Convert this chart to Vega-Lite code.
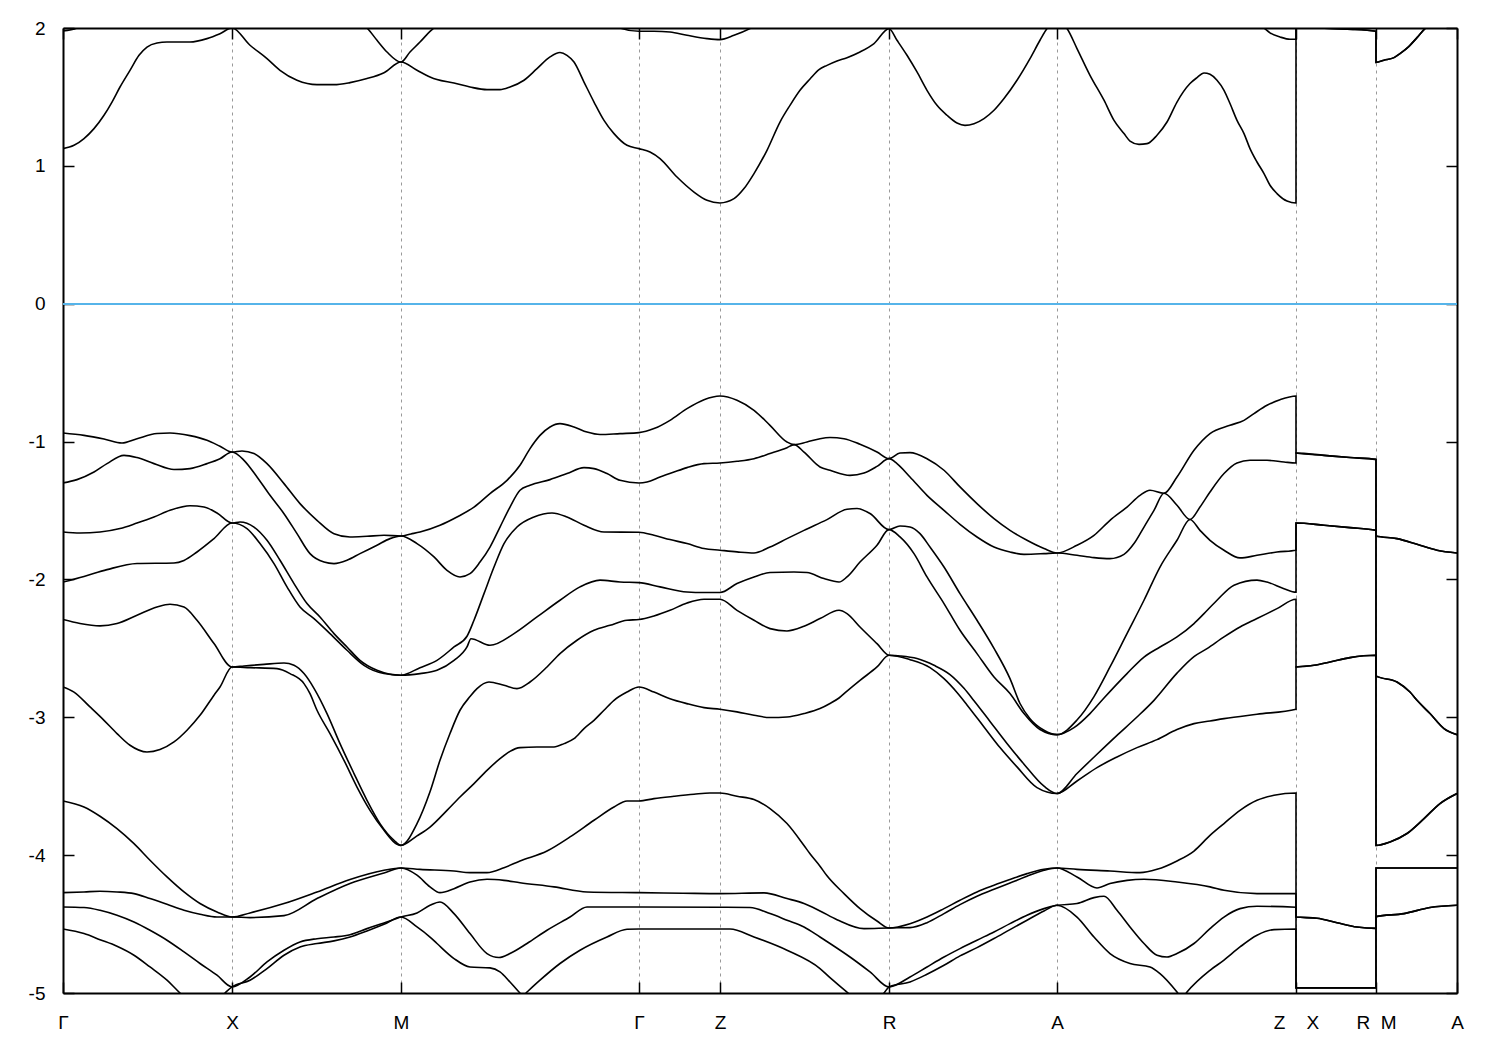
{
"$schema": "https://vega.github.io/schema/vega-lite/v6.json",
"autosize": "none",
"width": 1394,
"height": 965,
"padding": {"left": 63, "top": 28, "right": 43, "bottom": 57},
"background": "white",
"config": {"view": {"stroke": null}, "font": "Liberation Sans"},
"data": {"values": [
{"b":12,"k":0,"e":1.125},{"b":12,"k":11,"e":1.149},{"b":12,"k":21,"e":1.198},{"b":12,"k":31,"e":1.27},{"b":12,"k":41,"e":1.367},{"b":12,"k":49,"e":1.463},{"b":12,"k":57,"e":1.572},{"b":12,"k":67,"e":1.693},{"b":12,"k":76,"e":1.802},{"b":12,"k":84,"e":1.862},{"b":12,"k":94,"e":1.891},{"b":12,"k":104,"e":1.898},{"b":12,"k":127,"e":1.898},{"b":12,"k":144,"e":1.923},{"b":12,"k":157,"e":1.959},{"b":12,"k":169,"e":2.0},
{"b":12,"k":187,"e":1.875},{"b":12,"k":204,"e":1.778},{"b":12,"k":217,"e":1.693},{"b":12,"k":234,"e":1.621},{"b":12,"k":254,"e":1.589},{"b":12,"k":271,"e":1.589},{"b":12,"k":287,"e":1.604},{"b":12,"k":304,"e":1.633},{"b":12,"k":321,"e":1.676},{"b":12,"k":338,"e":1.753},
{"b":12,"k":354,"e":1.693},{"b":12,"k":367,"e":1.645},{"b":12,"k":374,"e":1.626},{"b":12,"k":391,"e":1.601},{"b":12,"k":407,"e":1.572},{"b":12,"k":424,"e":1.553},{"b":12,"k":437,"e":1.553},{"b":12,"k":447,"e":1.572},{"b":12,"k":461,"e":1.621},{"b":12,"k":474,"e":1.705},{"b":12,"k":487,"e":1.79},{"b":12,"k":497,"e":1.822},{"b":12,"k":504,"e":1.802},{"b":12,"k":511,"e":1.753},{"b":12,"k":521,"e":1.608},{"b":12,"k":531,"e":1.463},{"b":12,"k":541,"e":1.33},{"b":12,"k":551,"e":1.234},{"b":12,"k":564,"e":1.149},{"b":12,"k":576,"e":1.125},
{"b":12,"k":587,"e":1.101},{"b":12,"k":597,"e":1.053},{"b":12,"k":614,"e":0.919},{"b":12,"k":631,"e":0.81},{"b":12,"k":644,"e":0.75},{"b":12,"k":657,"e":0.731},
{"b":12,"k":671,"e":0.762},{"b":12,"k":681,"e":0.835},{"b":12,"k":691,"e":0.944},{"b":12,"k":704,"e":1.113},{"b":12,"k":717,"e":1.318},{"b":12,"k":727,"e":1.439},{"b":12,"k":737,"e":1.548},{"b":12,"k":747,"e":1.63},{"b":12,"k":756,"e":1.698},{"b":12,"k":764,"e":1.729},{"b":12,"k":774,"e":1.761},{"b":12,"k":784,"e":1.785},{"b":12,"k":797,"e":1.826},{"b":12,"k":811,"e":1.887},{"b":12,"k":826,"e":1.995},
{"b":12,"k":834,"e":1.911},{"b":12,"k":844,"e":1.802},{"b":12,"k":854,"e":1.681},{"b":12,"k":864,"e":1.548},{"b":12,"k":874,"e":1.439},{"b":12,"k":884,"e":1.367},{"b":12,"k":894,"e":1.311},{"b":12,"k":902,"e":1.294},{"b":12,"k":911,"e":1.306},{"b":12,"k":921,"e":1.343},{"b":12,"k":931,"e":1.403},{"b":12,"k":941,"e":1.488},{"b":12,"k":954,"e":1.621},{"b":12,"k":967,"e":1.778},{"b":12,"k":977,"e":1.911},{"b":12,"k":984,"e":1.996},{"b":12,"k":994,"e":2.06},
{"b":12,"k":1004,"e":1.996},{"b":12,"k":1014,"e":1.851},{"b":12,"k":1027,"e":1.657},{"b":12,"k":1041,"e":1.476},{"b":12,"k":1051,"e":1.33},{"b":12,"k":1061,"e":1.234},{"b":12,"k":1067,"e":1.18},{"b":12,"k":1076,"e":1.156},{"b":12,"k":1084,"e":1.161},{"b":12,"k":1094,"e":1.222},{"b":12,"k":1104,"e":1.318},{"b":12,"k":1114,"e":1.463},{"b":12,"k":1127,"e":1.597},{"b":12,"k":1134,"e":1.64},{"b":12,"k":1141,"e":1.674},{"b":12,"k":1147,"e":1.664},{"b":12,"k":1154,"e":1.621},{"b":12,"k":1161,"e":1.548},{"b":12,"k":1167,"e":1.452},{"b":12,"k":1174,"e":1.33},{"b":12,"k":1181,"e":1.234},{"b":12,"k":1187,"e":1.125},{"b":12,"k":1194,"e":1.028},{"b":12,"k":1201,"e":0.944},{"b":12,"k":1207,"e":0.859},{"b":12,"k":1214,"e":0.799},{"b":12,"k":1224,"e":0.745},{"b":12,"k":1233,"e":0.731},
{"b":12,"k":1233,"e":2.0},{"b":12,"k":1290,"e":1.99},{"b":12,"k":1313,"e":1.976},
{"b":12,"k":1313,"e":1.751},{"b":12,"k":1321,"e":1.766},{"b":12,"k":1331,"e":1.785},{"b":12,"k":1337,"e":1.814},{"b":12,"k":1346,"e":1.867},{"b":12,"k":1354,"e":1.93},{"b":12,"k":1362,"e":1.996},{"b":12,"k":1394,"e":2.1},

{"b":11,"k":0,"e":1.978},{"b":11,"k":14,"e":2.0},{"b":11,"k":30,"e":2.08},{"b":11,"k":70,"e":2.2},{"b":11,"k":130,"e":2.15},{"b":11,"k":169,"e":2.05},{"b":11,"k":230,"e":2.25},{"b":11,"k":290,"e":2.06},{"b":11,"k":304,"e":2.0},{"b":11,"k":314,"e":1.911},{"b":11,"k":324,"e":1.826},{"b":11,"k":338,"e":1.753},{"b":11,"k":347,"e":1.826},{"b":11,"k":357,"e":1.898},{"b":11,"k":367,"e":1.975},{"b":11,"k":380,"e":2.05},{"b":11,"k":450,"e":2.2},{"b":11,"k":540,"e":2.1},{"b":11,"k":557,"e":2.0},{"b":11,"k":576,"e":1.976},{"b":11,"k":591,"e":1.976},{"b":11,"k":607,"e":1.971},{"b":11,"k":624,"e":1.947},{"b":11,"k":644,"e":1.923},{"b":11,"k":657,"e":1.916},{"b":11,"k":671,"e":1.947},{"b":11,"k":687,"e":1.996},{"b":11,"k":700,"e":2.05},{"b":11,"k":760,"e":2.2},{"b":11,"k":826,"e":2.05},{"b":11,"k":900,"e":2.25},{"b":11,"k":994,"e":2.15},{"b":11,"k":1100,"e":2.3},{"b":11,"k":1190,"e":2.05},{"b":11,"k":1201,"e":2.0},{"b":11,"k":1207,"e":1.965},{"b":11,"k":1217,"e":1.935},{"b":11,"k":1227,"e":1.918},{"b":11,"k":1233,"e":1.918},{"b":11,"k":1233,"e":2.0},{"b":11,"k":1290,"e":1.99},{"b":11,"k":1313,"e":1.976},{"b":11,"k":1313,"e":1.751},{"b":11,"k":1321,"e":1.766},{"b":11,"k":1331,"e":1.785},{"b":11,"k":1337,"e":1.814},{"b":11,"k":1346,"e":1.867},{"b":11,"k":1354,"e":1.93},{"b":11,"k":1362,"e":1.996},{"b":11,"k":1394,"e":2.1},

{"b":1,"k":0,"e":-0.938},{"b":1,"k":21,"e":-0.955},{"b":1,"k":41,"e":-0.981},{"b":1,"k":59,"e":-1.01},{"b":1,"k":74,"e":-0.979},{"b":1,"k":94,"e":-0.942},{"b":1,"k":107,"e":-0.938},{"b":1,"k":127,"e":-0.957},{"b":1,"k":144,"e":-0.991},{"b":1,"k":157,"e":-1.034},{"b":1,"k":169,"e":-1.076},
{"b":1,"k":179,"e":-1.068},{"b":1,"k":191,"e":-1.087},{"b":1,"k":204,"e":-1.16},{"b":1,"k":221,"e":-1.305},{"b":1,"k":237,"e":-1.45},{"b":1,"k":254,"e":-1.571},{"b":1,"k":271,"e":-1.668},{"b":1,"k":287,"e":-1.692},{"b":1,"k":304,"e":-1.687},{"b":1,"k":321,"e":-1.68},{"b":1,"k":338,"e":-1.685},
{"b":1,"k":348,"e":-1.67},{"b":1,"k":357,"e":-1.656},{"b":1,"k":377,"e":-1.607},{"b":1,"k":394,"e":-1.547},{"b":1,"k":411,"e":-1.475},{"b":1,"k":427,"e":-1.377},{"b":1,"k":444,"e":-1.281},{"b":1,"k":457,"e":-1.172},{"b":1,"k":467,"e":-1.051},{"b":1,"k":477,"e":-0.955},{"b":1,"k":487,"e":-0.894},{"b":1,"k":497,"e":-0.87},{"b":1,"k":511,"e":-0.894},{"b":1,"k":524,"e":-0.931},{"b":1,"k":537,"e":-0.949},{"b":1,"k":557,"e":-0.942},{"b":1,"k":576,"e":-0.935},
{"b":1,"k":591,"e":-0.906},{"b":1,"k":607,"e":-0.846},{"b":1,"k":624,"e":-0.761},{"b":1,"k":641,"e":-0.696},{"b":1,"k":657,"e":-0.669},
{"b":1,"k":674,"e":-0.7},{"b":1,"k":691,"e":-0.773},{"b":1,"k":707,"e":-0.882},{"b":1,"k":724,"e":-1.003},{"b":1,"k":731,"e":-1.022},{"b":1,"k":744,"e":-1.003},{"b":1,"k":757,"e":-0.979},{"b":1,"k":767,"e":-0.971},{"b":1,"k":781,"e":-0.979},{"b":1,"k":797,"e":-1.02},{"b":1,"k":814,"e":-1.076},{"b":1,"k":826,"e":-1.124},
{"b":1,"k":837,"e":-1.083},{"b":1,"k":847,"e":-1.08},{"b":1,"k":864,"e":-1.124},{"b":1,"k":881,"e":-1.208},{"b":1,"k":897,"e":-1.329},{"b":1,"k":914,"e":-1.45},{"b":1,"k":931,"e":-1.559},{"b":1,"k":947,"e":-1.644},{"b":1,"k":964,"e":-1.716},{"b":1,"k":981,"e":-1.776},{"b":1,"k":994,"e":-1.808},
{"b":1,"k":1014,"e":-1.752},{"b":1,"k":1031,"e":-1.68},{"b":1,"k":1047,"e":-1.571},{"b":1,"k":1064,"e":-1.475},{"b":1,"k":1077,"e":-1.39},{"b":1,"k":1087,"e":-1.353},{"b":1,"k":1101,"e":-1.375},{"b":1,"k":1114,"e":-1.257},{"b":1,"k":1131,"e":-1.063},{"b":1,"k":1147,"e":-0.942},{"b":1,"k":1167,"e":-0.882},{"b":1,"k":1181,"e":-0.846},{"b":1,"k":1191,"e":-0.797},{"b":1,"k":1204,"e":-0.737},{"b":1,"k":1217,"e":-0.696},{"b":1,"k":1233,"e":-0.669},
{"b":1,"k":1233,"e":-1.083},{"b":1,"k":1261,"e":-1.1},{"b":1,"k":1287,"e":-1.116},{"b":1,"k":1313,"e":-1.129},
{"b":1,"k":1313,"e":-1.685},{"b":1,"k":1334,"e":-1.704},{"b":1,"k":1354,"e":-1.745},{"b":1,"k":1374,"e":-1.788},{"b":1,"k":1394,"e":-1.808},

{"b":2,"k":0,"e":-1.3},{"b":2,"k":14,"e":-1.276},{"b":2,"k":31,"e":-1.221},{"b":2,"k":44,"e":-1.16},{"b":2,"k":61,"e":-1.1},{"b":2,"k":74,"e":-1.116},{"b":2,"k":91,"e":-1.16},{"b":2,"k":111,"e":-1.203},{"b":2,"k":127,"e":-1.196},{"b":2,"k":144,"e":-1.16},{"b":2,"k":157,"e":-1.124},{"b":2,"k":169,"e":-1.076},
{"b":2,"k":181,"e":-1.136},{"b":2,"k":194,"e":-1.257},{"b":2,"k":207,"e":-1.39},{"b":2,"k":221,"e":-1.523},{"b":2,"k":234,"e":-1.668},{"b":2,"k":247,"e":-1.813},{"b":2,"k":261,"e":-1.874},{"b":2,"k":271,"e":-1.885},{"b":2,"k":284,"e":-1.861},{"b":2,"k":297,"e":-1.813},{"b":2,"k":314,"e":-1.752},{"b":2,"k":327,"e":-1.704},{"b":2,"k":338,"e":-1.685},
{"b":2,"k":354,"e":-1.74},{"b":2,"k":371,"e":-1.837},{"b":2,"k":384,"e":-1.934},{"b":2,"k":397,"e":-1.982},{"b":2,"k":407,"e":-1.958},{"b":2,"k":417,"e":-1.874},{"b":2,"k":427,"e":-1.765},{"b":2,"k":437,"e":-1.62},{"b":2,"k":447,"e":-1.475},{"b":2,"k":457,"e":-1.353},{"b":2,"k":467,"e":-1.317},{"b":2,"k":487,"e":-1.276},{"b":2,"k":504,"e":-1.232},{"b":2,"k":521,"e":-1.189},{"b":2,"k":531,"e":-1.196},{"b":2,"k":544,"e":-1.232},{"b":2,"k":557,"e":-1.281},{"b":2,"k":576,"e":-1.3},
{"b":2,"k":584,"e":-1.293},{"b":2,"k":597,"e":-1.257},{"b":2,"k":611,"e":-1.221},{"b":2,"k":624,"e":-1.189},{"b":2,"k":641,"e":-1.16},{"b":2,"k":657,"e":-1.155},
{"b":2,"k":674,"e":-1.143},{"b":2,"k":691,"e":-1.124},{"b":2,"k":707,"e":-1.087},{"b":2,"k":724,"e":-1.044},{"b":2,"k":731,"e":-1.022},{"b":2,"k":741,"e":-1.076},{"b":2,"k":757,"e":-1.184},{"b":2,"k":767,"e":-1.208},{"b":2,"k":787,"e":-1.245},{"b":2,"k":801,"e":-1.228},{"b":2,"k":814,"e":-1.18},{"b":2,"k":826,"e":-1.124},
{"b":2,"k":834,"e":-1.16},{"b":2,"k":847,"e":-1.257},{"b":2,"k":864,"e":-1.39},{"b":2,"k":881,"e":-1.499},{"b":2,"k":897,"e":-1.6},{"b":2,"k":914,"e":-1.692},{"b":2,"k":931,"e":-1.765},{"b":2,"k":947,"e":-1.801},{"b":2,"k":961,"e":-1.818},{"b":2,"k":981,"e":-1.813},{"b":2,"k":994,"e":-1.808},
{"b":2,"k":1014,"e":-1.825},{"b":2,"k":1031,"e":-1.842},{"b":2,"k":1047,"e":-1.849},{"b":2,"k":1061,"e":-1.818},{"b":2,"k":1071,"e":-1.74},{"b":2,"k":1081,"e":-1.62},{"b":2,"k":1091,"e":-1.499},{"b":2,"k":1101,"e":-1.375},{"b":2,"k":1114,"e":-1.462},{"b":2,"k":1127,"e":-1.565},{"b":2,"k":1137,"e":-1.475},{"b":2,"k":1147,"e":-1.366},{"b":2,"k":1161,"e":-1.232},{"b":2,"k":1174,"e":-1.155},{"b":2,"k":1187,"e":-1.136},{"b":2,"k":1204,"e":-1.136},{"b":2,"k":1221,"e":-1.148},{"b":2,"k":1233,"e":-1.155},
{"b":2,"k":1233,"e":-1.083},{"b":2,"k":1261,"e":-1.1},{"b":2,"k":1287,"e":-1.116},{"b":2,"k":1313,"e":-1.129},
{"b":2,"k":1313,"e":-1.685},{"b":2,"k":1334,"e":-1.704},{"b":2,"k":1354,"e":-1.745},{"b":2,"k":1374,"e":-1.788},{"b":2,"k":1394,"e":-1.808},

{"b":3,"k":0,"e":-1.656},{"b":3,"k":17,"e":-1.663},{"b":3,"k":37,"e":-1.656},{"b":3,"k":57,"e":-1.631},{"b":3,"k":74,"e":-1.591},{"b":3,"k":91,"e":-1.547},{"b":3,"k":107,"e":-1.499},{"b":3,"k":127,"e":-1.465},{"b":3,"k":141,"e":-1.474},{"b":3,"k":154,"e":-1.518},{"b":3,"k":169,"e":-1.591},
{"b":3,"k":177,"e":-1.583},{"b":3,"k":191,"e":-1.62},{"b":3,"k":204,"e":-1.716},{"b":3,"k":217,"e":-1.861},{"b":3,"k":231,"e":-2.03},{"b":3,"k":244,"e":-2.175},{"b":3,"k":257,"e":-2.272},{"b":3,"k":271,"e":-2.393},{"b":3,"k":284,"e":-2.49},{"b":3,"k":297,"e":-2.587},{"b":3,"k":314,"e":-2.659},{"b":3,"k":338,"e":-2.695},
{"b":3,"k":357,"e":-2.64},{"b":3,"k":374,"e":-2.587},{"b":3,"k":391,"e":-2.49},{"b":3,"k":404,"e":-2.412},{"b":3,"k":411,"e":-2.296},{"b":3,"k":421,"e":-2.103},{"b":3,"k":431,"e":-1.91},{"b":3,"k":441,"e":-1.74},{"b":3,"k":454,"e":-1.62},{"b":3,"k":471,"e":-1.547},{"b":3,"k":489,"e":-1.518},{"b":3,"k":504,"e":-1.547},{"b":3,"k":521,"e":-1.607},{"b":3,"k":541,"e":-1.656},{"b":3,"k":576,"e":-1.658},
{"b":3,"k":591,"e":-1.68},{"b":3,"k":607,"e":-1.711},{"b":3,"k":624,"e":-1.74},{"b":3,"k":641,"e":-1.776},{"b":3,"k":657,"e":-1.788},
{"b":3,"k":674,"e":-1.8},{"b":3,"k":691,"e":-1.808},{"b":3,"k":707,"e":-1.765},{"b":3,"k":724,"e":-1.704},{"b":3,"k":741,"e":-1.644},{"b":3,"k":764,"e":-1.566},{"b":3,"k":784,"e":-1.491},{"b":3,"k":794,"e":-1.486},{"b":3,"k":807,"e":-1.522},{"b":3,"k":826,"e":-1.639},
{"b":3,"k":837,"e":-1.612},{"b":3,"k":847,"e":-1.62},{"b":3,"k":857,"e":-1.668},{"b":3,"k":867,"e":-1.765},{"b":3,"k":881,"e":-1.91},{"b":3,"k":897,"e":-2.103},{"b":3,"k":914,"e":-2.296},{"b":3,"k":931,"e":-2.5},{"b":3,"k":947,"e":-2.72},{"b":3,"k":957,"e":-2.9},{"b":3,"k":967,"e":-3.01},{"b":3,"k":981,"e":-3.094},{"b":3,"k":994,"e":-3.126},
{"b":3,"k":1014,"e":-3.02},{"b":3,"k":1031,"e":-2.85},{"b":3,"k":1047,"e":-2.635},{"b":3,"k":1064,"e":-2.393},{"b":3,"k":1081,"e":-2.151},{"b":3,"k":1097,"e":-1.91},{"b":3,"k":1114,"e":-1.716},{"b":3,"k":1127,"e":-1.565},{"b":3,"k":1137,"e":-1.644},{"b":3,"k":1147,"e":-1.716},{"b":3,"k":1161,"e":-1.788},{"b":3,"k":1177,"e":-1.844},{"b":3,"k":1194,"e":-1.825},{"b":3,"k":1214,"e":-1.801},{"b":3,"k":1233,"e":-1.788},
{"b":3,"k":1233,"e":-1.591},{"b":3,"k":1261,"e":-1.607},{"b":3,"k":1287,"e":-1.624},{"b":3,"k":1313,"e":-1.644},
{"b":3,"k":1313,"e":-2.7},{"b":3,"k":1334,"e":-2.744},{"b":3,"k":1347,"e":-2.817},{"b":3,"k":1354,"e":-2.877},{"b":3,"k":1367,"e":-2.973},{"b":3,"k":1381,"e":-3.082},{"b":3,"k":1394,"e":-3.126},

{"b":4,"k":0,"e":-2.019},{"b":4,"k":21,"e":-1.978},{"b":4,"k":44,"e":-1.929},{"b":4,"k":74,"e":-1.885},{"b":4,"k":111,"e":-1.881},{"b":4,"k":121,"e":-1.862},{"b":4,"k":134,"e":-1.801},{"b":4,"k":151,"e":-1.704},{"b":4,"k":169,"e":-1.591},
{"b":4,"k":184,"e":-1.631},{"b":4,"k":197,"e":-1.74},{"b":4,"k":211,"e":-1.885},{"b":4,"k":224,"e":-2.054},{"b":4,"k":237,"e":-2.2},{"b":4,"k":251,"e":-2.284},{"b":4,"k":267,"e":-2.393},{"b":4,"k":284,"e":-2.514},{"b":4,"k":301,"e":-2.623},{"b":4,"k":321,"e":-2.683},{"b":4,"k":338,"e":-2.695},
{"b":4,"k":357,"e":-2.683},{"b":4,"k":374,"e":-2.659},{"b":4,"k":391,"e":-2.587},{"b":4,"k":404,"e":-2.49},{"b":4,"k":408,"e":-2.43},{"b":4,"k":427,"e":-2.478},{"b":4,"k":451,"e":-2.393},{"b":4,"k":474,"e":-2.272},{"b":4,"k":497,"e":-2.151},{"b":4,"k":517,"e":-2.054},{"b":4,"k":537,"e":-2.005},{"b":4,"k":557,"e":-2.019},{"b":4,"k":576,"e":-2.023},
{"b":4,"k":597,"e":-2.054},{"b":4,"k":624,"e":-2.091},{"b":4,"k":641,"e":-2.095},{"b":4,"k":657,"e":-2.095},
{"b":4,"k":674,"e":-2.03},{"b":4,"k":691,"e":-1.982},{"b":4,"k":707,"e":-1.95},{"b":4,"k":731,"e":-1.946},{"b":4,"k":744,"e":-1.95},{"b":4,"k":761,"e":-1.994},{"b":4,"k":776,"e":-2.019},{"b":4,"k":784,"e":-1.982},{"b":4,"k":797,"e":-1.874},{"b":4,"k":814,"e":-1.752},{"b":4,"k":826,"e":-1.639},
{"b":4,"k":837,"e":-1.692},{"b":4,"k":851,"e":-1.813},{"b":4,"k":864,"e":-1.982},{"b":4,"k":881,"e":-2.175},{"b":4,"k":897,"e":-2.369},{"b":4,"k":914,"e":-2.538},{"b":4,"k":931,"e":-2.708},{"b":4,"k":947,"e":-2.828},{"b":4,"k":961,"e":-2.973},{"b":4,"k":977,"e":-3.089},{"b":4,"k":994,"e":-3.126},
{"b":4,"k":1011,"e":-3.075},{"b":4,"k":1027,"e":-2.973},{"b":4,"k":1041,"e":-2.86},{"b":4,"k":1064,"e":-2.683},{"b":4,"k":1081,"e":-2.563},{"b":4,"k":1097,"e":-2.49},{"b":4,"k":1114,"e":-2.417},{"b":4,"k":1131,"e":-2.32},{"b":4,"k":1141,"e":-2.248},{"b":4,"k":1154,"e":-2.151},{"b":4,"k":1171,"e":-2.042},{"b":4,"k":1194,"e":-2.005},{"b":4,"k":1204,"e":-2.019},{"b":4,"k":1221,"e":-2.067},{"b":4,"k":1233,"e":-2.093},
{"b":4,"k":1233,"e":-1.591},{"b":4,"k":1261,"e":-1.607},{"b":4,"k":1287,"e":-1.624},{"b":4,"k":1313,"e":-1.644},
{"b":4,"k":1313,"e":-2.7},{"b":4,"k":1334,"e":-2.744},{"b":4,"k":1347,"e":-2.817},{"b":4,"k":1354,"e":-2.877},{"b":4,"k":1367,"e":-2.973},{"b":4,"k":1381,"e":-3.082},{"b":4,"k":1394,"e":-3.126},

{"b":5,"k":0,"e":-2.291},{"b":5,"k":17,"e":-2.32},{"b":5,"k":37,"e":-2.337},{"b":5,"k":54,"e":-2.32},{"b":5,"k":74,"e":-2.26},{"b":5,"k":94,"e":-2.2},{"b":5,"k":107,"e":-2.18},{"b":5,"k":121,"e":-2.2},{"b":5,"k":134,"e":-2.296},{"b":5,"k":151,"e":-2.465},{"b":5,"k":169,"e":-2.635},
{"b":5,"k":181,"e":-2.628},{"b":5,"k":201,"e":-2.616},{"b":5,"k":221,"e":-2.606},{"b":5,"k":231,"e":-2.623},{"b":5,"k":241,"e":-2.683},{"b":5,"k":251,"e":-2.79},{"b":5,"k":264,"e":-2.973},{"b":5,"k":277,"e":-3.191},{"b":5,"k":291,"e":-3.408},{"b":5,"k":304,"e":-3.602},{"b":5,"k":317,"e":-3.771},{"b":5,"k":331,"e":-3.892},{"b":5,"k":338,"e":-3.929},
{"b":5,"k":354,"e":-3.771},{"b":5,"k":367,"e":-3.54},{"b":5,"k":377,"e":-3.312},{"b":5,"k":387,"e":-3.118},{"b":5,"k":397,"e":-2.949},{"b":5,"k":407,"e":-2.85},{"b":5,"k":414,"e":-2.792},{"b":5,"k":426,"e":-2.744},{"b":5,"k":441,"e":-2.768},{"b":5,"k":454,"e":-2.792},{"b":5,"k":467,"e":-2.744},{"b":5,"k":484,"e":-2.635},{"b":5,"k":497,"e":-2.538},{"b":5,"k":514,"e":-2.441},{"b":5,"k":531,"e":-2.369},{"b":5,"k":547,"e":-2.333},{"b":5,"k":564,"e":-2.296},{"b":5,"k":576,"e":-2.291},
{"b":5,"k":591,"e":-2.265},{"b":5,"k":607,"e":-2.224},{"b":5,"k":624,"e":-2.171},{"b":5,"k":641,"e":-2.144},{"b":5,"k":657,"e":-2.144},
{"b":5,"k":674,"e":-2.224},{"b":5,"k":691,"e":-2.296},{"b":5,"k":707,"e":-2.357},{"b":5,"k":724,"e":-2.374},{"b":5,"k":741,"e":-2.34},{"b":5,"k":757,"e":-2.284},{"b":5,"k":776,"e":-2.224},{"b":5,"k":784,"e":-2.248},{"b":5,"k":797,"e":-2.345},{"b":5,"k":814,"e":-2.466},{"b":5,"k":826,"e":-2.55},
{"b":5,"k":837,"e":-2.555},{"b":5,"k":854,"e":-2.574},{"b":5,"k":871,"e":-2.623},{"b":5,"k":887,"e":-2.69},{"b":5,"k":901,"e":-2.79},{"b":5,"k":911,"e":-2.88},{"b":5,"k":927,"e":-3.03},{"b":5,"k":944,"e":-3.19},{"b":5,"k":961,"e":-3.34},{"b":5,"k":981,"e":-3.5},{"b":5,"k":994,"e":-3.553},
{"b":5,"k":1014,"e":-3.408},{"b":5,"k":1034,"e":-3.268},{"b":5,"k":1054,"e":-3.131},{"b":5,"k":1074,"e":-2.998},{"b":5,"k":1091,"e":-2.877},{"b":5,"k":1114,"e":-2.68},{"b":5,"k":1131,"e":-2.56},{"b":5,"k":1144,"e":-2.502},{"b":5,"k":1161,"e":-2.417},{"b":5,"k":1177,"e":-2.345},{"b":5,"k":1194,"e":-2.284},{"b":5,"k":1214,"e":-2.212},{"b":5,"k":1233,"e":-2.144},
{"b":5,"k":1233,"e":-2.635},{"b":5,"k":1251,"e":-2.623},{"b":5,"k":1267,"e":-2.599},{"b":5,"k":1287,"e":-2.567},{"b":5,"k":1313,"e":-2.55},
{"b":5,"k":1313,"e":-3.929},{"b":5,"k":1327,"e":-3.904},{"b":5,"k":1344,"e":-3.843},{"b":5,"k":1361,"e":-3.735},{"b":5,"k":1377,"e":-3.626},{"b":5,"k":1394,"e":-3.553},

{"b":6,"k":0,"e":-2.78},{"b":6,"k":11,"e":-2.817},{"b":6,"k":27,"e":-2.925},{"b":6,"k":41,"e":-3.022},{"b":6,"k":54,"e":-3.118},{"b":6,"k":67,"e":-3.203},{"b":6,"k":84,"e":-3.252},{"b":6,"k":97,"e":-3.234},{"b":6,"k":111,"e":-3.179},{"b":6,"k":124,"e":-3.094},{"b":6,"k":137,"e":-2.986},{"b":6,"k":151,"e":-2.84},{"b":6,"k":157,"e":-2.78},{"b":6,"k":169,"e":-2.635},
{"b":6,"k":187,"e":-2.64},{"b":6,"k":214,"e":-2.647},{"b":6,"k":227,"e":-2.683},{"b":6,"k":241,"e":-2.756},{"b":6,"k":247,"e":-2.829},{"b":6,"k":254,"e":-2.949},{"b":6,"k":267,"e":-3.118},{"b":6,"k":281,"e":-3.312},{"b":6,"k":294,"e":-3.506},{"b":6,"k":307,"e":-3.675},{"b":6,"k":321,"e":-3.82},{"b":6,"k":334,"e":-3.921},{"b":6,"k":338,"e":-3.929},
{"b":6,"k":354,"e":-3.86},{"b":6,"k":367,"e":-3.796},{"b":6,"k":384,"e":-3.675},{"b":6,"k":397,"e":-3.578},{"b":6,"k":411,"e":-3.481},{"b":6,"k":424,"e":-3.385},{"b":6,"k":437,"e":-3.3},{"b":6,"k":447,"e":-3.247},{"b":6,"k":457,"e":-3.22},{"b":6,"k":474,"e":-3.215},{"b":6,"k":491,"e":-3.215},{"b":6,"k":501,"e":-3.191},{"b":6,"k":511,"e":-3.155},{"b":6,"k":521,"e":-3.082},{"b":6,"k":531,"e":-3.022},{"b":6,"k":541,"e":-2.949},{"b":6,"k":551,"e":-2.877},{"b":6,"k":564,"e":-2.817},{"b":6,"k":576,"e":-2.78},
{"b":6,"k":591,"e":-2.817},{"b":6,"k":607,"e":-2.865},{"b":6,"k":624,"e":-2.901},{"b":6,"k":641,"e":-2.93},{"b":6,"k":657,"e":-2.942},
{"b":6,"k":674,"e":-2.961},{"b":6,"k":691,"e":-2.985},{"b":6,"k":707,"e":-3.002},{"b":6,"k":724,"e":-2.998},{"b":6,"k":741,"e":-2.973},{"b":6,"k":757,"e":-2.937},{"b":6,"k":767,"e":-2.9},{"b":6,"k":776,"e":-2.86},{"b":6,"k":784,"e":-2.81},{"b":6,"k":797,"e":-2.732},{"b":6,"k":814,"e":-2.635},{"b":6,"k":826,"e":-2.55},
{"b":6,"k":847,"e":-2.582},{"b":6,"k":867,"e":-2.64},{"b":6,"k":881,"e":-2.72},{"b":6,"k":894,"e":-2.82},{"b":6,"k":904,"e":-2.91},{"b":6,"k":921,"e":-3.07},{"b":6,"k":937,"e":-3.22},{"b":6,"k":954,"e":-3.36},{"b":6,"k":974,"e":-3.51},{"b":6,"k":994,"e":-3.553},
{"b":6,"k":1014,"e":-3.462},{"b":6,"k":1034,"e":-3.365},{"b":6,"k":1054,"e":-3.288},{"b":6,"k":1074,"e":-3.22},{"b":6,"k":1094,"e":-3.162},{"b":6,"k":1114,"e":-3.089},{"b":6,"k":1131,"e":-3.046},{"b":6,"k":1147,"e":-3.027},{"b":6,"k":1161,"e":-3.01},{"b":6,"k":1194,"e":-2.978},{"b":6,"k":1233,"e":-2.942},
{"b":6,"k":1233,"e":-2.635},{"b":6,"k":1251,"e":-2.623},{"b":6,"k":1267,"e":-2.599},{"b":6,"k":1287,"e":-2.567},{"b":6,"k":1313,"e":-2.55},
{"b":6,"k":1313,"e":-3.929},{"b":6,"k":1327,"e":-3.904},{"b":6,"k":1344,"e":-3.843},{"b":6,"k":1361,"e":-3.735},{"b":6,"k":1377,"e":-3.626},{"b":6,"k":1394,"e":-3.553},

{"b":7,"k":0,"e":-3.607},{"b":7,"k":21,"e":-3.651},{"b":7,"k":37,"e":-3.718},{"b":7,"k":54,"e":-3.808},{"b":7,"k":71,"e":-3.917},{"b":7,"k":87,"e":-4.037},{"b":7,"k":104,"e":-4.158},{"b":7,"k":121,"e":-4.267},{"b":7,"k":137,"e":-4.351},{"b":7,"k":154,"e":-4.412},{"b":7,"k":169,"e":-4.449},
{"b":7,"k":187,"e":-4.419},{"b":7,"k":221,"e":-4.351},{"b":7,"k":254,"e":-4.267},{"b":7,"k":287,"e":-4.177},{"b":7,"k":321,"e":-4.11},{"b":7,"k":338,"e":-4.093},
{"b":7,"k":357,"e":-4.103},{"b":7,"k":391,"e":-4.115},{"b":7,"k":407,"e":-4.127},{"b":7,"k":424,"e":-4.127},{"b":7,"k":441,"e":-4.091},{"b":7,"k":457,"e":-4.042},{"b":7,"k":484,"e":-3.97},{"b":7,"k":507,"e":-3.868},{"b":7,"k":531,"e":-3.747},{"b":7,"k":551,"e":-3.651},{"b":7,"k":564,"e":-3.607},{"b":7,"k":576,"e":-3.607},
{"b":7,"k":591,"e":-3.59},{"b":7,"k":611,"e":-3.573},{"b":7,"k":631,"e":-3.558},{"b":7,"k":647,"e":-3.549},{"b":7,"k":657,"e":-3.549},
{"b":7,"k":674,"e":-3.573},{"b":7,"k":691,"e":-3.597},{"b":7,"k":707,"e":-3.662},{"b":7,"k":724,"e":-3.771},{"b":7,"k":741,"e":-3.93},{"b":7,"k":747,"e":-3.99},{"b":7,"k":757,"e":-4.08},{"b":7,"k":764,"e":-4.15},{"b":7,"k":781,"e":-4.279},{"b":7,"k":797,"e":-4.388},{"b":7,"k":814,"e":-4.478},{"b":7,"k":826,"e":-4.528},
{"b":7,"k":847,"e":-4.497},{"b":7,"k":864,"e":-4.449},{"b":7,"k":881,"e":-4.388},{"b":7,"k":897,"e":-4.327},{"b":7,"k":914,"e":-4.267},{"b":7,"k":931,"e":-4.219},{"b":7,"k":947,"e":-4.177},{"b":7,"k":964,"e":-4.134},{"b":7,"k":981,"e":-4.102},{"b":7,"k":994,"e":-4.093},
{"b":7,"k":1014,"e":-4.103},{"b":7,"k":1047,"e":-4.115},{"b":7,"k":1077,"e":-4.127},{"b":7,"k":1094,"e":-4.103},{"b":7,"k":1114,"e":-4.042},{"b":7,"k":1131,"e":-3.97},{"b":7,"k":1147,"e":-3.857},{"b":7,"k":1161,"e":-3.771},{"b":7,"k":1177,"e":-3.675},{"b":7,"k":1194,"e":-3.602},{"b":7,"k":1211,"e":-3.566},{"b":7,"k":1233,"e":-3.549},
{"b":7,"k":1233,"e":-4.449},{"b":7,"k":1254,"e":-4.458},{"b":7,"k":1274,"e":-4.49},{"b":7,"k":1294,"e":-4.521},{"b":7,"k":1313,"e":-4.531},
{"b":7,"k":1313,"e":-4.093},{"b":7,"k":1394,"e":-4.093},

{"b":8,"k":0,"e":-4.272},{"b":8,"k":21,"e":-4.267},{"b":8,"k":37,"e":-4.262},{"b":8,"k":54,"e":-4.267},{"b":8,"k":71,"e":-4.279},{"b":8,"k":87,"e":-4.315},{"b":8,"k":104,"e":-4.357},{"b":8,"k":121,"e":-4.4},{"b":8,"k":137,"e":-4.429},{"b":8,"k":154,"e":-4.449},{"b":8,"k":169,"e":-4.449},
{"b":8,"k":187,"e":-4.453},{"b":8,"k":221,"e":-4.439},{"b":8,"k":254,"e":-4.315},{"b":8,"k":287,"e":-4.206},{"b":8,"k":321,"e":-4.129},{"b":8,"k":338,"e":-4.093},
{"b":8,"k":354,"e":-4.145},{"b":8,"k":367,"e":-4.23},{"b":8,"k":377,"e":-4.272},{"b":8,"k":391,"e":-4.243},{"b":8,"k":407,"e":-4.195},{"b":8,"k":424,"e":-4.175},{"b":8,"k":441,"e":-4.183},{"b":8,"k":457,"e":-4.2},{"b":8,"k":491,"e":-4.23},{"b":8,"k":524,"e":-4.267},{"b":8,"k":576,"e":-4.272},
{"b":8,"k":620,"e":-4.276},{"b":8,"k":657,"e":-4.279},
{"b":8,"k":701,"e":-4.274},{"b":8,"k":724,"e":-4.315},{"b":8,"k":741,"e":-4.351},{"b":8,"k":757,"e":-4.405},{"b":8,"k":774,"e":-4.468},{"b":8,"k":801,"e":-4.533},{"b":8,"k":826,"e":-4.528},
{"b":8,"k":847,"e":-4.526},{"b":8,"k":864,"e":-4.49},{"b":8,"k":881,"e":-4.424},{"b":8,"k":897,"e":-4.359},{"b":8,"k":914,"e":-4.298},{"b":8,"k":931,"e":-4.248},{"b":8,"k":947,"e":-4.202},{"b":8,"k":964,"e":-4.153},{"b":8,"k":981,"e":-4.11},{"b":8,"k":994,"e":-4.093},
{"b":8,"k":1014,"e":-4.158},{"b":8,"k":1034,"e":-4.238},{"b":8,"k":1047,"e":-4.206},{"b":8,"k":1064,"e":-4.183},{"b":8,"k":1081,"e":-4.175},{"b":8,"k":1114,"e":-4.195},{"b":8,"k":1147,"e":-4.23},{"b":8,"k":1161,"e":-4.255},{"b":8,"k":1194,"e":-4.279},{"b":8,"k":1233,"e":-4.279},
{"b":8,"k":1233,"e":-4.449},{"b":8,"k":1254,"e":-4.458},{"b":8,"k":1274,"e":-4.49},{"b":8,"k":1294,"e":-4.521},{"b":8,"k":1313,"e":-4.531},
{"b":8,"k":1313,"e":-4.093},{"b":8,"k":1394,"e":-4.093},

{"b":9,"k":0,"e":-4.376},{"b":9,"k":21,"e":-4.38},{"b":9,"k":37,"e":-4.4},{"b":9,"k":54,"e":-4.436},{"b":9,"k":71,"e":-4.485},{"b":9,"k":87,"e":-4.545},{"b":9,"k":104,"e":-4.617},{"b":9,"k":121,"e":-4.702},{"b":9,"k":137,"e":-4.786},{"b":9,"k":154,"e":-4.871},{"b":9,"k":169,"e":-4.956},
{"b":9,"k":187,"e":-4.884},{"b":9,"k":204,"e":-4.775},{"b":9,"k":221,"e":-4.69},{"b":9,"k":237,"e":-4.63},{"b":9,"k":254,"e":-4.606},{"b":9,"k":271,"e":-4.594},{"b":9,"k":287,"e":-4.577},{"b":9,"k":304,"e":-4.533},{"b":9,"k":321,"e":-4.492},{"b":9,"k":338,"e":-4.449},
{"b":9,"k":354,"e":-4.419},{"b":9,"k":367,"e":-4.364},{"b":9,"k":377,"e":-4.34},{"b":9,"k":391,"e":-4.424},{"b":9,"k":407,"e":-4.569},{"b":9,"k":424,"e":-4.714},{"b":9,"k":436,"e":-4.743},{"b":9,"k":447,"e":-4.714},{"b":9,"k":464,"e":-4.641},{"b":9,"k":484,"e":-4.545},{"b":9,"k":507,"e":-4.449},{"b":9,"k":524,"e":-4.376},{"b":9,"k":576,"e":-4.376},
{"b":9,"k":657,"e":-4.378},
{"b":9,"k":687,"e":-4.38},{"b":9,"k":707,"e":-4.424},{"b":9,"k":724,"e":-4.472},{"b":9,"k":741,"e":-4.521},{"b":9,"k":757,"e":-4.594},{"b":9,"k":767,"e":-4.641},{"b":9,"k":787,"e":-4.739},{"b":9,"k":807,"e":-4.847},{"b":9,"k":826,"e":-4.956},
{"b":9,"k":847,"e":-4.884},{"b":9,"k":864,"e":-4.811},{"b":9,"k":881,"e":-4.739},{"b":9,"k":897,"e":-4.678},{"b":9,"k":914,"e":-4.617},{"b":9,"k":931,"e":-4.557},{"b":9,"k":947,"e":-4.497},{"b":9,"k":964,"e":-4.436},{"b":9,"k":981,"e":-4.388},{"b":9,"k":994,"e":-4.364},
{"b":9,"k":1014,"e":-4.351},{"b":9,"k":1031,"e":-4.308},{"b":9,"k":1041,"e":-4.298},{"b":9,"k":1054,"e":-4.4},{"b":9,"k":1067,"e":-4.521},{"b":9,"k":1081,"e":-4.641},{"b":9,"k":1094,"e":-4.726},{"b":9,"k":1104,"e":-4.739},{"b":9,"k":1114,"e":-4.714},{"b":9,"k":1131,"e":-4.641},{"b":9,"k":1147,"e":-4.533},{"b":9,"k":1161,"e":-4.449},{"b":9,"k":1177,"e":-4.388},{"b":9,"k":1194,"e":-4.371},{"b":9,"k":1233,"e":-4.378},
{"b":9,"k":1233,"e":-4.963},{"b":9,"k":1313,"e":-4.963},
{"b":9,"k":1313,"e":-4.446},{"b":9,"k":1341,"e":-4.424},{"b":9,"k":1367,"e":-4.38},{"b":9,"k":1394,"e":-4.364},

{"b":10,"k":0,"e":-4.536},{"b":10,"k":21,"e":-4.569},{"b":10,"k":37,"e":-4.613},{"b":10,"k":54,"e":-4.661},{"b":10,"k":71,"e":-4.726},{"b":10,"k":87,"e":-4.811},{"b":10,"k":104,"e":-4.907},{"b":10,"k":117,"e":-5.0},{"b":10,"k":132,"e":-5.09},{"b":10,"k":148,"e":-5.1},{"b":10,"k":162,"e":-5.0},{"b":10,"k":169,"e":-4.956},
{"b":10,"k":187,"e":-4.908},{"b":10,"k":204,"e":-4.823},{"b":10,"k":221,"e":-4.726},{"b":10,"k":237,"e":-4.666},{"b":10,"k":254,"e":-4.641},{"b":10,"k":271,"e":-4.622},{"b":10,"k":287,"e":-4.594},{"b":10,"k":304,"e":-4.55},{"b":10,"k":321,"e":-4.502},{"b":10,"k":338,"e":-4.449},
{"b":10,"k":354,"e":-4.521},{"b":10,"k":367,"e":-4.594},{"b":10,"k":374,"e":-4.641},{"b":10,"k":391,"e":-4.75},{"b":10,"k":407,"e":-4.811},{"b":10,"k":427,"e":-4.818},{"b":10,"k":437,"e":-4.847},{"b":10,"k":447,"e":-4.92},{"b":10,"k":456,"e":-4.993},{"b":10,"k":460,"e":-5.02},{"b":10,"k":464,"e":-4.993},{"b":10,"k":477,"e":-4.907},{"b":10,"k":497,"e":-4.786},{"b":10,"k":517,"e":-4.69},{"b":10,"k":544,"e":-4.594},{"b":10,"k":564,"e":-4.538},{"b":10,"k":576,"e":-4.536},
{"b":10,"k":657,"e":-4.536},
{"b":10,"k":667,"e":-4.536},{"b":10,"k":691,"e":-4.594},{"b":10,"k":724,"e":-4.69},{"b":10,"k":757,"e":-4.823},{"b":10,"k":767,"e":-4.889},{"b":10,"k":784,"e":-4.993},{"b":10,"k":800,"e":-5.08},{"b":10,"k":821,"e":-5.0},{"b":10,"k":826,"e":-4.956},
{"b":10,"k":847,"e":-4.92},{"b":10,"k":864,"e":-4.864},{"b":10,"k":881,"e":-4.799},{"b":10,"k":897,"e":-4.731},{"b":10,"k":914,"e":-4.671},{"b":10,"k":931,"e":-4.605},{"b":10,"k":947,"e":-4.54},{"b":10,"k":964,"e":-4.472},{"b":10,"k":981,"e":-4.405},{"b":10,"k":994,"e":-4.364},
{"b":10,"k":1014,"e":-4.449},{"b":10,"k":1031,"e":-4.594},{"b":10,"k":1047,"e":-4.714},{"b":10,"k":1067,"e":-4.786},{"b":10,"k":1087,"e":-4.811},{"b":10,"k":1097,"e":-4.859},{"b":10,"k":1114,"e":-4.993},{"b":10,"k":1119,"e":-5.04},{"b":10,"k":1124,"e":-4.993},{"b":10,"k":1147,"e":-4.835},{"b":10,"k":1161,"e":-4.762},{"b":10,"k":1177,"e":-4.666},{"b":10,"k":1194,"e":-4.581},{"b":10,"k":1211,"e":-4.54},{"b":10,"k":1233,"e":-4.536},
{"b":10,"k":1233,"e":-4.963},{"b":10,"k":1313,"e":-4.963},
{"b":10,"k":1313,"e":-4.446},{"b":10,"k":1341,"e":-4.424},{"b":10,"k":1367,"e":-4.38},{"b":10,"k":1394,"e":-4.364}
]},
"layer": [
{
"mark": {"type": "line", "clip": true, "color": "black", "strokeWidth": 1.6, "interpolate": "monotone"},
"encoding": {
"x": {"field": "k", "type": "quantitative", "scale": {"domain": [0, 1394], "nice": false, "zero": false},
 "axis": {"orient": "bottom", "title": null, "values": [0,169,338,576,657,826,994,1233,1313,1394],
 "labelExpr": "datum.value == 0 ? 'Γ' : datum.value == 169 ? 'X' : datum.value == 338 ? 'M' : datum.value == 576 ? 'Γ' : datum.value == 657 ? 'Z' : datum.value == 826 ? 'R' : datum.value == 994 ? 'A' : datum.value == 1233 ? 'Z\u00a0\u00a0\u00a0\u00a0X' : datum.value == 1313 ? 'R\u00a0\u00a0M' : 'A'",
 "grid": true, "gridDash": [3, 4], "gridColor": "#999999", "gridWidth": 1,
 "tickSize": -11, "tickColor": "black", "tickWidth": 1.5, "domainColor": "black", "domainWidth": 2,
 "labelPadding": 31, "labelFontSize": 19, "labelFont": "Liberation Sans", "labelColor": "black", "labelFlush": false, "labelOverlap": false, "labelAngle": 0}},
"y": {"field": "e", "type": "quantitative", "scale": {"domain": [-5, 2], "nice": false, "zero": false},
 "axis": {"orient": "left", "title": null, "values": [-5,-4,-3,-2,-1,0,1,2], "labelExpr": "'' + datum.value",
 "grid": false, "tickSize": -11, "tickColor": "black", "tickWidth": 1.5, "domainColor": "black", "domainWidth": 2,
 "labelPadding": 29, "labelFontSize": 19, "labelFont": "Liberation Sans", "labelColor": "black", "labelFlush": false, "labelOverlap": false}},
"detail": {"field": "b", "type": "nominal"},
"order": {"value": null}
}
},
{
"mark": {"type": "rule", "color": "#56b4e9", "strokeWidth": 1.5},
"encoding": {
"x": {"datum": 0, "type": "quantitative", "scale": {"domain": [0, 1394], "nice": false, "zero": false},
 "axis": {"orient": "top", "title": null, "values": [0,169,338,576,657,826,994,1233,1313,1394], "labels": false, "grid": false,
 "tickSize": -11, "tickColor": "black", "tickWidth": 1.5, "domainColor": "black", "domainWidth": 2}},
"x2": {"datum": 1394},
"y": {"datum": 0, "type": "quantitative", "scale": {"domain": [-5, 2], "nice": false, "zero": false},
 "axis": {"orient": "right", "title": null, "values": [-5,-4,-3,-2,-1,0,1,2], "labels": false, "grid": false,
 "tickSize": -11, "tickColor": "black", "tickWidth": 1.5, "domainColor": "black", "domainWidth": 2}}
}
}
],
"resolve": {"axis": {"x": "independent", "y": "independent"}}
}
